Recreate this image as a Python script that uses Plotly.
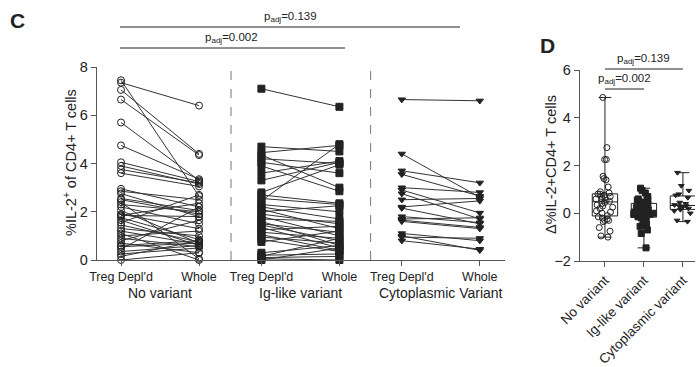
import numpy as np
import plotly.graph_objects as go

# ---------------- data ----------------
pair_labels = ["Treg Depl'd", "Whole"]
groups_c = ["No variant", "Ig-like variant", "Cytoplasmic Variant"]

treg_no = [7.45, 7.35, 7.05, 6.65, 5.7, 4.75, 4.05, 3.9, 3.75, 3.6, 2.95, 2.85, 2.75, 2.55, 2.5,
           2.4, 2.3, 2.2, 2.05, 1.9, 1.85, 1.75, 1.65, 1.55, 1.45, 1.3, 1.2, 1.1, 1.0, 0.9,
           0.8, 0.7, 0.6, 0.55, 0.45, 0.35, 0.25, 0.15, 0.0, 1.85]
whole_no = [2.65, 6.4, 4.4, 4.35, 3.3, 3.35, 3.25, 3.15, 3.2, 3.05, 2.2, 2.5, 1.8, 2.05, 1.9,
            0.05, 2.0, 1.5, 0.7, 1.3, 2.35, 0.85, 0.6, 2.7, 0.75, 1.0, 0.65, 0.0, 1.2, 0.55,
            1.65, 0.3, 0.8, 0.7, 2.2, 0.6, 0.5, 0.8, 0.3, 1.8]

treg_ig = [7.1, 4.7, 4.45, 4.35, 4.2, 4.05, 3.9, 3.6, 3.3, 2.8, 2.7, 2.55, 2.45, 2.3, 2.2, 2.1,
           2.0, 1.9, 1.8, 1.7, 1.6, 1.5, 1.45, 1.35, 1.25, 1.15, 1.05, 0.95, 0.85, 0.75, 0.3,
           0.2, 0.15, 0.1, 0.05, 0.0]
whole_ig = [6.35, 4.5, 4.75, 3.0, 4.0, 3.6, 2.85, 4.1, 4.05, 3.95, 2.35, 2.3, 4.8, 2.0, 1.7, 1.3,
            2.25, 1.5, 1.0, 1.6, 0.6, 1.15, 0.8, 0.5, 1.4, 0.9, 0.4, 0.7, 0.35, 1.2, 0.6,
            0.25, 0.9, 0.15, 0.0, 0.5]

treg_cy = [6.65, 4.4, 3.7, 3.55, 3.0, 2.9, 2.75, 2.5, 2.2, 2.15, 1.8, 1.7, 1.65, 1.1, 1.0, 0.95, 0.8, 1.6]
whole_cy = [6.6, 2.6, 3.2, 2.65, 2.8, 1.95, 1.7, 2.55, 2.45, 1.5, 1.55, 1.75, 1.35, 0.8, 0.4, 0.9, 0.45, 1.3]

cats_d = ["No variant", "Ig-like variant", "Cytoplasmic variant"]
delta_no = [4.85, 2.75, 2.25, 2.25, 1.55, 1.45, 1.4, 1.1, 0.9, 0.85, 0.8, 0.8, 0.75, 0.7, 0.7,
            0.65, 0.6, 0.6, 0.55, 0.5, 0.45, 0.4, 0.35, 0.3, 0.25, 0.2, 0.1, 0.05, 0.0, -0.1,
            -0.15, -0.2, -0.25, -0.3, -0.3, -0.35, -0.6, -0.75, -0.95, -1.0]
delta_ig = [1.05, 0.95, 0.85, 0.7, 0.6, 0.55, 0.55, 0.5, 0.45, 0.4, 0.35, 0.3, 0.25, 0.2, 0.15,
            0.15, 0.1, 0.1, 0.05, 0.05, 0.0, -0.05, -0.05, -0.1, -0.15, -0.15, -0.2, -0.3, -0.4,
            -0.45, -0.5, -0.55, -0.7, -0.85, -1.45, 0.0]
delta_cy = [1.7, 1.15, 0.95, 0.8, 0.75, 0.65, 0.45, 0.4, 0.35, 0.3, 0.3, 0.25, 0.2, 0.15, 0.1, 0.0, -0.3, -0.35]

p_c = ["0.139", "0.002"]
p_d = ["0.139", "0.002"]

# ---------------- layout helpers ----------------
W, H = 700, 367
FONT = "Arial, Liberation Sans, sans-serif"
INK = "#222222"
AX = "#555555"

def px(x):
    return x / W

def py(y):
    return (H - y) / H

pos_c = [0.0, 1.0, 1.8, 2.8, 3.6, 4.6]
dividers = [1.41, 3.2]

fig = go.Figure()

symbols = ["circle-open", "square", "triangle-down"]
sizes = [7, 7, 6.5]
pairs = [(treg_no, whole_no), (treg_ig, whole_ig), (treg_cy, whole_cy)]
for gi, (a, b) in enumerate(pairs):
    xs, ys = [], []
    for va, vb in zip(a, b):
        xs += [pos_c[2 * gi], pos_c[2 * gi + 1], None]
        ys += [va, vb, None]
    fig.add_trace(go.Scatter(
        x=xs, y=ys, mode="lines+markers", cliponaxis=False,
        line=dict(color="#333333", width=1),
        marker=dict(symbol=symbols[gi], size=sizes[gi], color=INK,
                    line=dict(color=INK, width=1)),
        xaxis="x", yaxis="y", showlegend=False, hoverinfo="skip"))

# Panel D boxes
deltas = [delta_no, delta_ig, delta_cy]
dsym = ["circle-open", "square", "triangle-down"]
dsize = [6, 6, 5]
for ci, vals in enumerate(deltas):
    v = np.array(vals)
    fig.add_trace(go.Box(
        x=[cats_d[ci]], q1=[np.percentile(v, 25)], median=[np.median(v)],
        q3=[np.percentile(v, 75)], lowerfence=[v.min()], upperfence=[v.max()],
        boxpoints=False, width=0.65, whiskerwidth=0.5,
        fillcolor="white", line=dict(color=INK, width=1),
        xaxis="x2", yaxis="y2", showlegend=False, hoverinfo="skip"))
for ci, vals in enumerate(deltas):
    fig.add_trace(go.Box(
        x=[cats_d[ci]] * len(vals), y=vals, boxpoints="all", jitter=0.9, pointpos=0,
        width=0.65, fillcolor="rgba(0,0,0,0)", line=dict(color="rgba(0,0,0,0)", width=0),
        marker=dict(symbol=dsym[ci], size=dsize[ci], color=INK,
                    line=dict(color=INK, width=1)),
        xaxis="x2", yaxis="y2", showlegend=False, hoverinfo="skip"))

axis_common = dict(showgrid=False, zeroline=False, showline=True, linecolor=AX, linewidth=1.3,
                   ticks="outside", ticklen=5, tickwidth=1.3, tickcolor=AX, automargin=False,
                   tickfont=dict(family=FONT, size=14.5, color=INK))

fig.update_layout(
    width=W, height=H, margin=dict(l=0, r=0, t=0, b=0),
    paper_bgcolor="white", plot_bgcolor="white", boxmode="overlay",
    font=dict(family=FONT, color=INK),
    xaxis=dict(axis_common, domain=[px(97), px(505)], range=[-0.308, 4.923],
               tickvals=pos_c, ticktext=pair_labels * 3,
               tickfont=dict(family=FONT, size=12.5, color=INK), anchor="y"),
    yaxis=dict(axis_common, domain=[py(260), py(67)], range=[0, 8],
               tickvals=[0, 2, 4, 6, 8], anchor="x"),
    xaxis2=dict(axis_common, domain=[px(580), px(695)], range=[-0.64, 2.31],
                type="category", categoryorder="array", categoryarray=cats_d,
                tickangle=-45, tickfont=dict(family=FONT, size=13.5, color=INK), anchor="y2"),
    yaxis2=dict(axis_common, domain=[py(261), py(70)], range=[-2, 6],
                tickvals=[-2, 0, 2, 4, 6], anchor="x2"),
)

shapes = []
for d in dividers:
    shapes.append(dict(type="line", xref="x", yref="y", x0=d, x1=d, y0=0, y1=8,
                       line=dict(color="#777777", width=1, dash="dash")))
# brackets panel C
shapes.append(dict(type="line", xref="paper", yref="paper", x0=px(120), x1=px(460),
                   y0=py(27), y1=py(27), line=dict(color=INK, width=1.2)))
shapes.append(dict(type="line", xref="paper", yref="paper", x0=px(120), x1=px(345),
                   y0=py(48), y1=py(48), line=dict(color=INK, width=1.2)))
# brackets panel D
shapes.append(dict(type="line", xref="x2", yref="paper", x0=0, x1=2,
                   y0=py(69), y1=py(69), line=dict(color=INK, width=1.2)))
shapes.append(dict(type="line", xref="x2", yref="paper", x0=0, x1=1,
                   y0=py(89), y1=py(89), line=dict(color=INK, width=1.2)))
fig.update_layout(shapes=shapes)

ann = []
ann.append(dict(text="<b>C</b>", xref="paper", yref="paper", x=px(8), y=py(20),
                xanchor="left", yanchor="middle", showarrow=False,
                font=dict(family=FONT, size=21, color=INK)))
ann.append(dict(text="<b>D</b>", xref="paper", yref="paper", x=px(538), y=py(45),
                xanchor="left", yanchor="middle", showarrow=False,
                font=dict(family=FONT, size=21, color=INK)))
ann.append(dict(text="p<sub>adj</sub>=" + p_c[0], xref="paper", yref="paper", x=px(290), y=py(26),
                xanchor="center", yanchor="bottom", showarrow=False,
                font=dict(family=FONT, size=11.5, color=INK)))
ann.append(dict(text="p<sub>adj</sub>=" + p_c[1], xref="paper", yref="paper", x=px(232), y=py(47),
                xanchor="center", yanchor="bottom", showarrow=False,
                font=dict(family=FONT, size=11.5, color=INK)))
ann.append(dict(text="p<sub>adj</sub>=" + p_d[0], xref="x2", yref="paper", x=1.0, y=py(68),
                xanchor="center", yanchor="bottom", showarrow=False,
                font=dict(family=FONT, size=11.5, color=INK)))
ann.append(dict(text="p<sub>adj</sub>=" + p_d[1], xref="x2", yref="paper", x=0.5, y=py(88),
                xanchor="center", yanchor="bottom", showarrow=False,
                font=dict(family=FONT, size=11.5, color=INK)))
for gi, g in enumerate(groups_c):
    ann.append(dict(text=g, xref="x", yref="paper", x=(pos_c[2 * gi] + pos_c[2 * gi + 1]) / 2,
                    y=py(293), xanchor="center", yanchor="middle", showarrow=False,
                    font=dict(family=FONT, size=14, color=INK)))
ann.append(dict(text="%IL-2<sup>+</sup> of CD4+ T cells", xref="paper", yref="paper",
                x=px(70), y=py(163), textangle=-90, xanchor="center", yanchor="middle",
                showarrow=False, font=dict(family=FONT, size=14.5, color=INK)))
ann.append(dict(text="Δ%IL-2+CD4+ T cells", xref="paper", yref="paper",
                x=px(551), y=py(165), textangle=-90, xanchor="center", yanchor="middle",
                showarrow=False, font=dict(family=FONT, size=14.5, color=INK)))
fig.update_layout(annotations=ann)

fig.write_html("out.html", config={"displayModeBar": False},
               post_script="document.body.style.margin='0';document.body.style.padding='0';")
